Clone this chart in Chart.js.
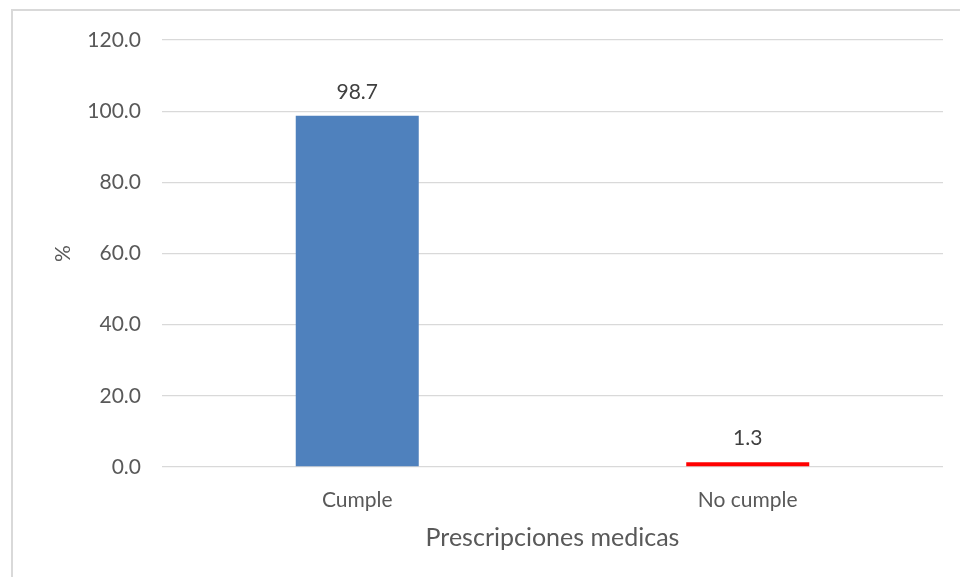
<!DOCTYPE html>
<html>
<head>
<meta charset="utf-8">
<script src="https://cdn.jsdelivr.net/npm/chart.js@4"></script>
<style>
  html, body { margin: 0; padding: 0; background: #fff; overflow: hidden; }
  #frame {
    position: absolute; left: 11px; top: 9px; width: 1000px; height: 600px;
    border-left: 2px solid #d9d9d9; border-top: 2px solid #d9d9d9;
  }
  #wrap { position: absolute; left: 0; top: 0; width: 960px; height: 577px; }
</style>
</head>
<body>
<div id="frame"></div>
<div id="wrap"><canvas id="chart"></canvas></div>
<script>
const categories = ['Cumple', 'No cumple'];
const percentages = [98.7, 1.3];
const barColors = ['#4f81bd', '#ff0000'];
const yTicks = [0, 20, 40, 60, 80, 100, 120];

const FONT = 'Lato, "Liberation Sans", sans-serif';

// prints each bar's value just above it
const valueLabels = {
  id: 'valueLabels',
  afterDatasetsDraw(chart) {
    const ctx = chart.ctx;
    const meta = chart.getDatasetMeta(0);
    ctx.save();
    ctx.font = '21px ' + FONT;
    ctx.fillStyle = '#404040';
    ctx.textAlign = 'center';
    ctx.textBaseline = 'alphabetic';
    meta.data.forEach((bar, i) => {
      ctx.fillText(percentages[i].toFixed(1), bar.x, bar.y - 17);
    });
    ctx.restore();
  }
};

new Chart(document.getElementById('chart'), {
  type: 'bar',
  data: {
    labels: categories,
    datasets: [{
      data: percentages,
      backgroundColor: barColors,
      borderWidth: 0,
      categoryPercentage: 1,
      barPercentage: 0.315
    }]
  },
  options: {
    responsive: true,
    maintainAspectRatio: false,
    animation: false,
    layout: { padding: { left: 40, right: 17, top: 40, bottom: 0 } },
    plugins: {
      legend: { display: false },
      tooltip: { enabled: false }
    },
    scales: {
      y: {
        min: 0,
        max: 120,
        afterBuildTicks(scale) {
          scale.ticks = yTicks.map(v => ({ value: v }));
        },
        afterFit(scale) { scale.width = 122; },
        border: { display: false },
        grid: { color: '#d9d9d9', lineWidth: 1.3, drawTicks: false },
        ticks: {
          padding: 21,
          color: '#595959',
          font: { family: FONT, size: 21 },
          callback: v => v.toFixed(1)
        },
        title: {
          display: true,
          text: '%',
          color: '#595959',
          font: { family: FONT, size: 21 },
          padding: { top: 11, bottom: 0 }
        }
      },
      x: {
        afterFit(scale) { scale.height = 110; },
        border: { display: false },
        grid: { display: false },
        ticks: {
          padding: 13,
          color: '#595959',
          font: { family: FONT, size: 21 }
        },
        title: {
          display: true,
          text: 'Prescripciones medicas',
          color: '#595959',
          font: { family: FONT, size: 25 },
          padding: { top: 0, bottom: 24 }
        }
      }
    }
  },
  plugins: [valueLabels]
});
</script>
</body>
</html>
